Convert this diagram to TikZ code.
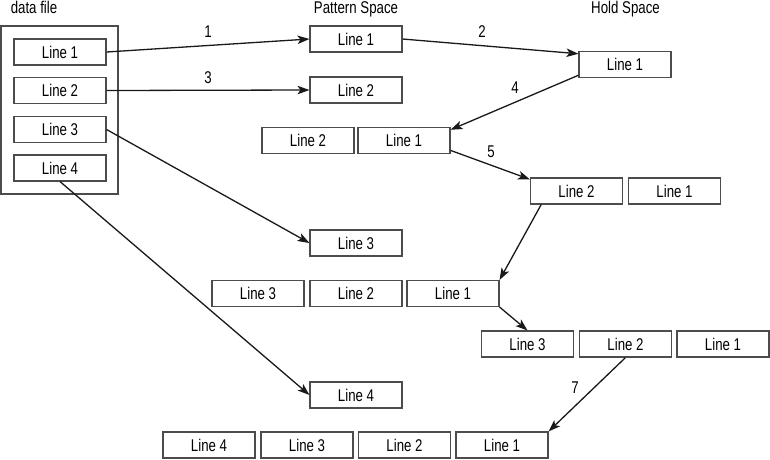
\documentclass[tikz,border=0pt]{standalone}
\usepackage{fontspec}
\setmainfont{Liberation Sans}[FakeStretch=0.78]
\usetikzlibrary{arrows.meta}
\begin{document}
\begin{tikzpicture}[x=1pt,y=-1pt,
  lbox/.style={draw=black!70,line width=1.1pt,minimum width=92pt,minimum height=26pt,inner sep=0pt,font=\fontsize{17}{18}\selectfont},
  outer/.style={draw=black!70,line width=1.1pt,minimum width=117pt,minimum height=168pt,inner sep=0pt},
  arr/.style={draw=black!90,line width=1.3pt,-{Stealth[length=12pt,width=8.5pt,inset=3pt]}},
  num/.style={font=\fontsize{17}{18}\selectfont,inner sep=0pt},
  ttl/.style={font=\fontsize{17}{18}\selectfont,inner sep=0pt,anchor=base}]
\useasboundingbox (0,0) rectangle (770,459);
% titles
\node[ttl] (tdata) at (34,13) {data file};
\node[ttl] (tps) at (356,13) {Pattern Space};
\node[ttl] (ths) at (625.5,13) {Hold Space};
% data file
\node[outer] (df) at (59.5,110) {};
\node[lbox] (d1) at (60,52) {Line 1};
\node[lbox] (d2) at (60,90.5) {Line 2};
\node[lbox] (d3) at (60,129.5) {Line 3};
\node[lbox] (d4) at (60,168) {Line 4};
% pattern space column
\node[lbox] (ps1) at (356,39) {Line 1};
\node[lbox] (ps2) at (356,90) {Line 2};
\node[lbox] (ps3) at (356,243) {Line 3};
\node[lbox] (ps4) at (356,395) {Line 4};
% hold and combined
\node[lbox] (h1) at (625,64.5) {Line 1};
\node[lbox] (r3a) at (308,140.5) {Line 2};
\node[lbox] (r3b) at (404,140.5) {Line 1};
\node[lbox] (r4a) at (576.5,191) {Line 2};
\node[lbox] (r4b) at (674.5,191) {Line 1};
\node[lbox] (r5a) at (258,293.5) {Line 3};
\node[lbox] (r5b) at (356,293.5) {Line 2};
\node[lbox] (r5c) at (453,293.5) {Line 1};
\node[lbox] (r6a) at (527.5,344) {Line 3};
\node[lbox] (r6b) at (625.5,344) {Line 2};
\node[lbox] (r6c) at (723,344) {Line 1};
\node[lbox] (b1) at (209,445) {Line 4};
\node[lbox] (b2) at (307,445) {Line 3};
\node[lbox] (b3) at (404.5,445) {Line 2};
\node[lbox] (b4) at (502,445) {Line 1};
% arrows
\draw[arr] (d1.east) -- (ps1.west);
\draw[arr] (ps1.east) -- (h1.167);
\draw[arr] (d2.east) -- (ps2.west);
\draw[arr] (h1.193) -- (r3b.13);
\draw[arr] (r3b.348) -- (r4a.166);
\draw[arr] (r4a.201) -- (r5c.north east);
\draw[arr] (r5c.south east) -- (r6a.north);
\draw[arr] (d3.east) -- (ps3.west);
\draw[arr] (d4.south) -- (ps4.west);
\draw[arr] (r6b.south) -- (b4.north east);
% numbers
\node[num] (n1) at (208,32) {1};
\node[num] (n2) at (482,32) {2};
\node[num] (n3) at (208,78) {3};
\node[num] (n4) at (515,88) {4};
\node[num] (n5) at (491,152) {5};
\node[num] (n7) at (575,388) {7};
\end{tikzpicture}
\end{document}
